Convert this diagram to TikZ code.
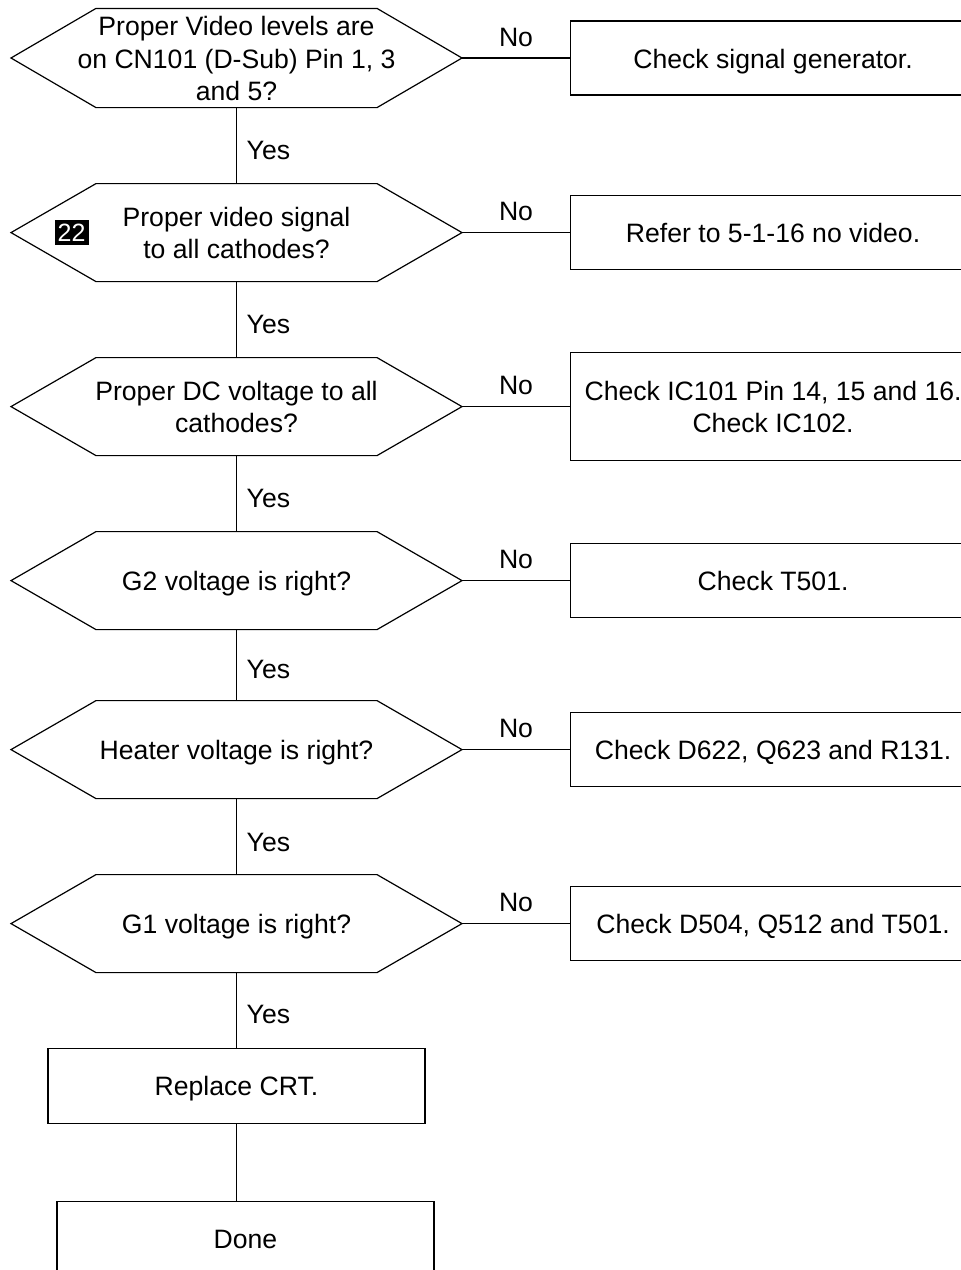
\documentclass[tikz,border=0pt]{standalone}
\usepackage{fontspec}
\setmainfont{Liberation Sans}
\usetikzlibrary{positioning}
\newcommand{\topstrut}{\rule{0pt}{13.5pt}}
\newcommand{\botstrut}{\rule[-3.5pt]{0pt}{3.5pt}}

\begin{document}
\begin{tikzpicture}[
  x=0.5pt, y=-0.5pt,
  font=\fontsize{13.3}{16.3}\selectfont,
  line width=0.6pt,
  query/.style={rectangle, inner sep=0pt, outer sep=0pt, align=center,
    minimum width=225.5pt, minimum height=49pt},
  remedy/.style={draw, rectangle, inner sep=0pt, align=center,
    minimum width=202.5pt, minimum height=37pt},
  stage/.style={draw, rectangle, inner sep=0pt, align=center,
    minimum width=188.5pt, minimum height=37.5pt},
  tag/.style={fill=black, text=white, inner sep=0pt,
    minimum width=17pt, minimum height=12.5pt,
    font=\fontsize{12.5}{14}\selectfont},
  ans/.style={inner sep=0pt}
]
\useasboundingbox (0,0) rectangle (961,1270);
\clip (0,0) rectangle (961,1270);

\node[query] (d1) at (236.5,58) {\topstrut Proper Video levels are\\on CN101 (D-Sub) Pin 1, 3\\and 5?\botstrut};
\node[query, below=38pt of d1] (d2) {\topstrut Proper video signal\\to all cathodes?\botstrut};
\node[query, below=38pt of d2] (d3) {\topstrut Proper DC voltage to all\\cathodes?\botstrut};
\node[query, below=38pt of d3] (d4) {\topstrut G2 voltage is right?\botstrut};
\node[query, below=35.5pt of d4] (d5) {\topstrut Heater voltage is right?\botstrut};
\node[query, below=38pt of d5] (d6) {\topstrut G1 voltage is right?\botstrut};
\node[tag, right=21.5pt of d2.west] (n22) {22};

% hexagon outlines
\foreach \d in {d1,d2,d3,d4,d5,d6}
  \draw (\d.west) -- ([xshift=42.5pt]\d.north west) -- ([xshift=-42.5pt]\d.north east)
    -- (\d.east) -- ([xshift=-42.5pt]\d.south east) -- ([xshift=42.5pt]\d.south west) -- cycle;

\node[remedy, right=54pt of d1] (r1) {\topstrut Check signal generator.\botstrut};
\node[remedy, right=54pt of d2] (r2) {\topstrut Refer to 5-1-16 no video.\botstrut};
\node[remedy, right=54pt of d3, minimum height=54pt] (r3) {\topstrut Check IC101 Pin 14, 15 and 16.\\Check IC102.\botstrut};
\node[remedy, right=54pt of d4] (r4) {\topstrut Check T501.\botstrut};
\node[remedy, right=54pt of d5] (r5) {\topstrut Check D622, Q623 and R131.\botstrut};
\node[remedy, right=54pt of d6] (r6) {\topstrut Check D504, Q512 and T501.\botstrut};

\node[stage, below=37.5pt of d6] (s1) {\topstrut Replace CRT.\botstrut};
\node[stage, below=38.5pt of s1, xshift=4.5pt] (s2) {\topstrut Done\botstrut};

\draw (d1) -- (d2) node[ans, pos=0.56, right=4.8pt] {Yes};
\draw (d2) -- (d3) node[ans, pos=0.56, right=4.8pt] {Yes};
\draw (d3) -- (d4) node[ans, pos=0.56, right=4.8pt] {Yes};
\draw (d4) -- (d5) node[ans, pos=0.56, right=4.8pt] {Yes};
\draw (d5) -- (d6) node[ans, pos=0.58, right=4.8pt] {Yes};
\draw (d6) -- (s1) node[ans, pos=0.56, right=4.8pt] {Yes};
\draw (s1) -- (s1 |- s2.north);

\draw (d1) -- (r1) node[ans, midway, above=5.5pt] {No};
\draw (d2) -- (r2) node[ans, midway, above=5.5pt] {No};
\draw (d3) -- (r3) node[ans, midway, above=5.5pt] {No};
\draw (d4) -- (r4) node[ans, midway, above=5.5pt] {No};
\draw (d5) -- (r5) node[ans, midway, above=5.5pt] {No};
\draw (d6) -- (r6) node[ans, midway, above=5.5pt] {No};
\end{tikzpicture}
\end{document}
